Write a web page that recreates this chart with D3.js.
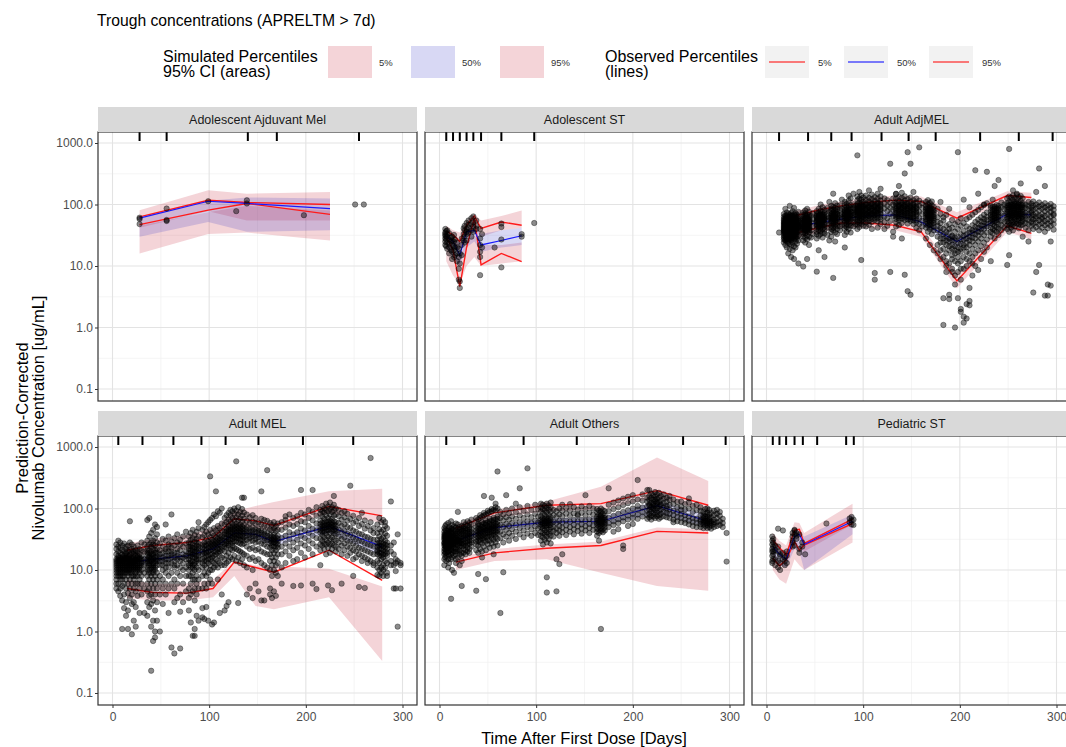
<!DOCTYPE html>
<html>
<head>
<meta charset="utf-8">
<script src="https://cdn.jsdelivr.net/npm/d3@7"></script>
<style>
  body { margin: 0; background: #fff; }
  svg { display: block; font-family: "Liberation Sans", Arial, Helvetica, sans-serif; }
</style>
</head>
<body>
<svg id="chart" width="1066" height="747"></svg>
<script>
// ---- Facet names ----
const panelNames = ["Adolescent Ajduvant Mel", "Adolescent ST", "Adult AdjMEL",
                    "Adult MEL", "Adult Others", "Pediatric ST"];

// ---- Axis ticks ----
const xTicks = [0, 100, 200, 300];
const xMinor = [50, 150, 250];
const yTicks = [0.1, 1, 10, 100, 1000];
const yMinor = [0.3162, 3.162, 31.62, 316.2];

// ---- Adolescent Ajduvant Mel ----
const aamTime   = [28, 99, 139, 225];
const aamObs5   = [47, 81, 104, 69];
const aamObs50  = [60, 113, 104, 86];
const aamObs95  = [63, 117, 108, 100];
const aamSim5   = [[16, 45], [33, 75], [35, 95], [26, 80]];
const aamSim50  = [[30, 62], [52, 115], [36, 130], [38, 125]];
const aamSim95  = [[42, 81], [78, 170], [55, 150], [55, 160]];
const aamBins   = [28, 56, 140, 170, 255];
const aamPoints = [[28, [61, 48, 58]], [56, [86, 56, 54]], [99, [113]], [128, [78]],
                   [139, [117, 104]], [198, [67]], [251, [100]], [260, [100]]];

// ---- Adolescent ST ----
const astTime   = [7, 14, 21, 28, 36, 43, 64, 85];
const astObs5   = [30, 18, 4.6, 20, 60, 10.4, 16, 11.8];
const astObs50  = [31, 25, 15, 36, 38, 22, 26, 31];
const astObs95  = [37, 32, 25, 46, 65, 41, 52, 46];
const astSim5   = [[12, 25], [7, 17], [5, 14], [10, 26], [14, 32], [10, 22], [11, 22], [12, 24]];
const astSim50  = [[20, 35], [14, 27], [10, 24], [20, 40], [25, 48], [17, 33], [20, 38], [22, 42]];
const astSim95  = [[28, 45], [22, 38], [18, 35], [30, 55], [40, 70], [30, 55], [38, 65], [42, 80]];
const astBins   = [7, 14, 21, 28, 35, 43, 64, 98];
const astPoints = [[6, [35, 28, 22, 40, 31, 25, 33]], [7, [37, 27, 30, 21]], [8, [30, 38, 24, 33, 19]],
                   [10, [27, 20, 34, 16, 23]], [12, [25, 18, 29]], [13, [22, 30, 17, 26, 13]],
                   [15, [18, 25, 14, 21, 32]], [16, [20, 15, 27]], [18, [16, 12, 20, 24]],
                   [20, [14, 9, 19, 6]], [21, [4.4, 5.6, 11, 16]], [23, [22, 28, 15]],
                   [25, [33, 26, 41]], [26, [30, 38, 24, 45]], [28, [40, 50, 33, 26, 36]],
                   [30, [42, 55, 35, 47]], [33, [48, 60, 38, 30]], [35, [64, 52, 44, 36]],
                   [38, [45, 55, 40]], [42, [40, 22, 17, 14, 28, 7.1]], [44, [20, 33]], [57, [20]],
                   [64, [49, 43, 9.5, 27]], [85, [30, 33]], [98, [50]]];

// ---- Adult AdjMEL ----
const adjTime   = [29, 55, 77, 103, 133, 160, 197, 249, 274];
const adjObs5   = [34, 42, 50, 50, 46, 36, 5.7, 45, 34];
const adjObs50  = [44, 51, 58, 65, 68, 52, 25, 70, 68];
const adjObs95  = [65, 82, 95, 108, 118, 112, 60, 140, 130];
const adjSim5   = [[28, 40], [35, 50], [42, 58], [42, 58], [38, 54], [30, 44], [4.3, 7.8], [36, 55], [27, 42]];
const adjSim50  = [[38, 48], [46, 58], [54, 66], [60, 76], [62, 80], [46, 62], [20, 30], [62, 80], [60, 78]];
const adjSim95  = [[55, 78], [70, 98], [82, 112], [95, 128], [100, 140], [95, 135], [48, 75], [115, 165], [105, 155]];
const adjBins   = [13, 43, 67, 88, 119, 147, 175, 221, 261, 296];
const adjPoints = [
  [13, [35]],
  [18, [41, 37, 52, 29, 46, 33, 58, 44, 24, 39, 63, 35, 48, 31, 55, 42, 27, 70, 38, 50]],
  [19.5, [44, 36, 49, 27, 53, 40, 61, 33, 45, 22, 38, 57, 47, 30, 66, 42, 35, 51, 26, 85]],
  [21, [39, 46, 31, 55, 43, 28, 60, 36, 49, 41, 25, 67, 34, 52, 45, 30, 58, 38, 20, 74]],
  [22.5, [47, 35, 53, 42, 29, 62, 38, 45, 33, 56, 24, 49, 40, 71, 31, 44, 37, 59, 27, 16]],
  [24, [43, 50, 34, 58, 39, 27, 46, 64, 32, 54, 41, 23, 48, 36, 68, 29, 45, 52, 19, 95]],
  [25.5, [38, 48, 30, 56, 44, 26, 61, 35, 51, 42, 33, 73, 46, 28, 54, 40, 22, 65, 37, 14]],
  [27, [45, 39, 53, 31, 47, 60, 36, 43, 28, 57, 49, 34, 66, 41, 24, 52, 38, 78, 30, 18]],
  [28.5, [42, 50, 33, 58, 37, 46, 27, 63, 40, 54, 31, 48, 69, 35, 44, 21, 57, 39, 88, 13]],
  [30, [46, 36, 55, 41, 29, 60, 48, 34, 52, 38, 25, 65, 43, 57, 31, 72, 45, 20]],
  [31.5, [40, 49, 33, 57, 44, 28, 62, 37, 51, 46, 35, 68, 30, 54, 23, 42]],
  [33, [47, 38, 55, 43, 31, 59, 50, 36, 64, 41, 26, 53, 45, 76, 11]],
  [38, [48, 41, 57, 35, 52, 44, 63, 38, 30, 55, 46, 68, 33, 50, 42, 26, 74, 59, 40, 9.8]],
  [40, [45, 53, 39, 60, 48, 34, 66, 43, 51, 29, 57, 47, 37, 71, 41, 55, 24, 80]],
  [42, [50, 42, 58, 36, 54, 46, 64, 40, 31, 61, 49, 38, 69, 44, 56, 27, 85, 13]],
  [44, [47, 55, 40, 62, 51, 35, 67, 44, 58, 30, 53, 42, 76, 38, 22, 49]],
  [46, [52, 38, 65, 29]], [48, [58, 44, 33, 72]],
  [52, [55, 47, 63, 40, 58, 51, 70, 36, 61, 45, 78, 33, 53, 66, 28, 8.1]],
  [54, [52, 60, 44, 67, 49, 57, 38, 73, 54, 42, 63, 31, 85, 47, 18]],
  [56, [58, 48, 65, 42, 55, 71, 37, 61, 50, 46, 79, 33, 68, 52, 100]],
  [58, [54, 62, 45, 69, 51, 40, 58, 76, 35, 64, 48, 57, 90, 29]],
  [60, [60, 50, 67, 43, 56, 73, 39, 63, 47, 82, 34, 58, 14]],
  [63, [55, 70, 42, 88, 32]], [65, [61, 48, 76, 110, 26]],
  [67, [62, 53, 70, 45, 58, 79, 40, 66, 50, 85, 36, 61, 95, 30]],
  [69, [57, 66, 48, 74, 60, 42, 82, 53, 69, 38, 92, 63, 6.4, 150]],
  [71, [64, 55, 72, 47, 60, 80, 43, 68, 52, 88, 35, 58, 105, 25]],
  [73, [60, 69, 50, 77, 56, 45, 84, 63, 40, 71, 96, 33]],
  [76, [66, 52, 80, 44, 97, 38]], [78, [70, 58, 86, 47, 62, 120]],
  [81, [68, 59, 77, 50, 72, 88, 45, 64, 81, 55, 98, 40, 70, 110, 32, 20]],
  [83, [63, 74, 54, 82, 67, 48, 92, 60, 76, 43, 103, 57, 71, 36]],
  [85, [71, 61, 79, 52, 85, 66, 95, 46, 74, 58, 115, 40, 140]],
  [87, [66, 77, 57, 84, 62, 50, 97, 70, 45, 88, 125, 35]],
  [90, [74, 60, 88, 52, 101, 44, 68, 150]], [92, [70, 82, 58, 95, 48, 76]],
  [94, [78, 66, 89, 58, 82, 102, 52, 73, 95, 62, 118, 47, 85, 135, 40, 630]],
  [96, [72, 84, 63, 94, 76, 55, 108, 68, 88, 50, 125, 80, 43, 160]],
  [98, [80, 69, 91, 60, 85, 104, 54, 76, 98, 65, 120, 48, 140, 12.5]],
  [100, [75, 87, 65, 96, 79, 57, 110, 70, 92, 52, 130, 62, 45]],
  [103, [82, 71, 93, 63, 86, 104, 57, 77, 99, 67, 118, 51, 140, 44]],
  [106, [76, 88, 67, 98, 80, 59, 112, 72, 92, 54, 128, 64, 47, 170]],
  [109, [84, 73, 95, 65, 88, 106, 58, 79, 101, 69, 122, 52, 145, 40]],
  [112, [78, 90, 69, 100, 82, 61, 114, 74, 94, 56, 132, 66, 7.7, 6]],
  [115, [85, 74, 96, 66, 89, 108, 60, 80, 103, 70, 125, 53, 150, 42]],
  [118, [80, 92, 70, 102, 84, 62, 116, 75, 97, 57, 135, 48, 180]],
  [122, [86, 64, 104, 52, 126, 40]], [125, [78, 95, 60, 118, 45]],
  [128, [88, 70, 108, 54, 8, 460]], [131, [82, 100, 65, 125, 36, 30]],
  [134, [84, 73, 96, 64, 88, 108, 58, 79, 102, 68, 124, 52, 148, 44, 150]],
  [137, [79, 91, 69, 101, 83, 60, 114, 74, 95, 55, 132, 64, 46, 200]],
  [140, [86, 75, 98, 65, 90, 110, 59, 80, 104, 70, 128, 50, 155, 28]],
  [143, [80, 93, 70, 103, 85, 61, 117, 75, 97, 56, 136, 66, 320, 7.2]],
  [146, [83, 72, 94, 63, 87, 106, 57, 78, 100, 67, 122, 49, 710, 3.9]],
  [149, [77, 89, 67, 99, 81, 58, 112, 72, 93, 54, 130, 62, 3.4, 460]],
  [152, [81, 70, 92, 61, 85, 104, 55, 76, 98, 64, 118, 48, 160]],
  [155, [74, 86, 64, 95, 78, 56, 108, 69, 90, 51, 125, 42]],
  [158, [76, 60, 95, 48, 115, 850, 38]], [161, [70, 88, 55, 105, 44]],
  [165, [72, 62, 84, 54, 77, 96, 48, 68, 88, 58, 110, 42, 28]],
  [167, [66, 78, 57, 88, 70, 50, 101, 62, 82, 45, 118, 36]],
  [169, [70, 59, 82, 51, 75, 93, 46, 64, 86, 55, 106, 40, 22]],
  [171, [63, 74, 54, 85, 67, 48, 97, 59, 79, 42, 112, 33]],
  [173, [60, 70, 50, 80, 64, 44, 92, 55, 75, 38, 18]],
  [177, [45, 30, 62, 22, 38, 85, 16, 52]],
  [180, [35, 24, 50, 18, 42, 70, 13, 28, 110]],
  [183, [28, 40, 19, 55, 33, 14, 24, 1.1, 3.0, 62]],
  [186, [30, 22, 45, 16, 36, 10, 26, 68, 12, 8]],
  [189, [25, 35, 18, 48, 28, 11, 21, 2.9, 3.4, 40, 85]],
  [192, [22, 31, 15, 42, 26, 9, 19, 56, 13, 8, 30]],
  [195, [26, 18, 36, 12, 29, 7, 21, 48, 5, 1.0, 16]],
  [198, [20, 30, 14, 40, 24, 8, 17, 52, 11, 3.0, 710]],
  [201, [23, 17, 33, 12, 27, 6, 19, 45, 1.8, 2.0, 9, 60]],
  [204, [27, 20, 37, 14, 31, 9, 22, 50, 1.5, 1.2, 120]],
  [207, [24, 33, 17, 44, 28, 10, 20, 58, 1.4, 2.4, 13]],
  [210, [30, 22, 40, 16, 35, 12, 26, 62, 4.4, 2.7, 2.3, 90]],
  [213, [34, 25, 46, 19, 38, 14, 29, 68, 7, 11]],
  [216, [38, 28, 52, 22, 43, 16, 33, 75, 10, 360]],
  [219, [42, 31, 57, 25, 48, 18, 36, 82, 8.6, 150]],
  [222, [46, 35, 62, 28, 53, 21, 40, 90, 13]],
  [225, [52, 40, 68, 32, 58, 24, 45, 98, 17, 100]],
  [228, [56, 44, 74, 35, 63, 27, 49, 105, 20, 340]],
  [232, [62, 50, 76, 42, 68, 88, 36, 57, 95, 30, 12]],
  [234, [58, 70, 48, 82, 64, 40, 93, 53, 76, 34, 120]],
  [236, [66, 54, 80, 45, 72, 92, 38, 60, 86, 28, 200]],
  [238, [61, 74, 51, 86, 67, 43, 98, 56, 79, 36]],
  [240, [68, 57, 83, 47, 74, 95, 40, 63, 88, 32, 250]],
  [243, [72, 55, 90, 46, 108, 38]], [246, [66, 84, 52, 100, 42]],
  [249, [75, 62, 90, 53, 82, 105, 46, 70, 96, 58, 125, 40, 10.4]],
  [251, [70, 85, 59, 98, 76, 50, 112, 65, 90, 45, 135, 36, 800, 15]],
  [253, [78, 64, 93, 55, 84, 108, 48, 72, 100, 60, 130, 42]],
  [255, [72, 88, 61, 101, 79, 52, 118, 67, 94, 47, 140, 38, 170]],
  [257, [80, 66, 95, 57, 86, 110, 50, 74, 102, 62, 128, 44]],
  [259, [74, 90, 63, 104, 81, 54, 120, 69, 96, 49, 145, 150]],
  [261, [77, 65, 92, 56, 83, 107, 48, 71, 99, 60, 132, 41]],
  [263, [71, 86, 60, 100, 78, 51, 115, 66, 91, 46, 138, 220]],
  [265, [76, 63, 90, 54, 82, 104, 47, 70, 97, 58, 126, 30]],
  [268, [73, 58, 88, 50, 100, 42, 66]],
  [271, [69, 84, 56, 95, 48, 110, 38, 25]],
  [274, [74, 60, 90, 52, 103, 45, 66, 80]],
  [276, [68, 82, 57, 96, 49, 112, 40, 3.7]],
  [279, [72, 59, 88, 51, 100, 43, 64, 160, 8]],
  [282, [66, 80, 55, 93, 47, 108, 38, 10.4, 385]],
  [285, [70, 58, 86, 50, 98, 42, 62]],
  [288, [65, 78, 54, 90, 46, 105, 36, 3.3, 200]],
  [291, [69, 57, 84, 49, 96, 41, 5, 3.3]],
  [294, [64, 76, 53, 88, 45, 102, 4.8, 25]],
  [297, [67, 56, 82, 48, 94, 39, 70]]
];

// ---- Adult MEL ----
const melTime   = [15, 42, 77, 104, 126, 148, 167, 224, 279];
const melObs5   = [5, 4.3, 4.2, 5, 13.5, 11, 9.2, 21, 6.8];
const melObs50  = [13, 15, 17, 22, 40, 38, 29, 51, 24];
const melObs95  = [21, 25, 28, 34, 68, 63, 53, 108, 76];
const melSim5   = [[3.5, 7], [3.2, 6], [3.2, 6], [3.6, 7], [8, 14], [2.6, 12], [2.3, 11.5], [3.6, 10.5], [0.33, 5.4]];
const melSim50  = [[11, 15], [13, 17.5], [15, 20], [19, 26], [33, 47], [32, 45], [25, 35], [40, 58], [17, 27]];
const melSim95  = [[16, 27], [19, 32], [22, 37], [27, 48], [52, 90], [48, 110], [42, 128], [85, 190], [58, 210]];
const melBins   = [6, 31, 63, 92, 117, 151, 197, 249];
const melPoints = [
  [4, [12, 9, 15, 7, 18, 11, 5, 14, 22, 10, 13, 8, 26, 6]],
  [6, [14, 10, 17, 8, 12, 20, 6, 15, 11, 24, 9, 13, 4.5, 30, 16]],
  [8, [11, 15, 8, 13, 19, 7, 10, 16, 5, 12, 23, 9, 14, 3.8, 28]],
  [10, [13, 9, 16, 11, 21, 7, 14, 10, 18, 5.5, 12, 25, 8, 15, 3.2, 1.1]],
  [12, [10, 14, 8, 17, 12, 6, 15, 20, 9, 13, 4, 11, 27, 16, 2.4]],
  [14, [15, 11, 18, 9, 13, 22, 7, 16, 10, 12, 5, 19, 3, 24, 1.8]],
  [16, [12, 16, 9, 14, 20, 8, 11, 17, 6, 13, 25, 10, 4.2, 15, 2.2, 1.1]],
  [18, [14, 10, 17, 12, 7, 21, 15, 9, 13, 5, 18, 11, 28, 3.5, 62]],
  [20, [11, 15, 9, 13, 19, 8, 16, 12, 6, 22, 10, 14, 4, 26, 2.8, 0.9]],
  [22, [13, 10, 16, 8, 12, 20, 7, 15, 11, 24, 5, 14, 3, 18, 1.5]],
  [24, [12, 15, 9, 17, 11, 6, 14, 21, 8, 13, 4.5, 19, 10, 2.5, 1.2]],
  [26, [14, 10, 16, 8, 20, 12, 6, 15, 25, 11, 3.8, 17]],
  [28, [11, 15, 9, 18, 13, 7, 22, 10, 16, 5, 12, 2]],
  [30, [13, 10, 17, 8, 14, 21, 6, 12, 4, 28, 15]],
  [33, [15, 9, 20, 5, 12, 26, 2]],
  [36, [15, 11, 19, 8, 14, 24, 6, 17, 10, 30, 4.5, 13, 3, 21, 65, 1.8]],
  [38, [13, 17, 9, 21, 12, 7, 16, 26, 10, 14, 5, 35, 3.8, 19, 2.5, 70]],
  [40, [16, 11, 20, 8, 14, 28, 6, 18, 12, 4, 24, 9, 15, 40, 2.8, 1.2, 0.23]],
  [42, [12, 18, 9, 15, 22, 7, 13, 30, 10, 17, 5, 26, 3.2, 45, 1.5, 0.7, 11]],
  [44, [14, 10, 19, 8, 16, 25, 6, 13, 33, 11, 4, 21, 2.2, 55, 1.0, 0.8]],
  [46, [17, 12, 22, 9, 15, 28, 7, 14, 38, 5, 19, 3, 50, 1.5]],
  [49, [16, 12, 21, 8, 14, 27, 6, 18, 4, 1.0]],
  [52, [14, 19, 10, 24, 7, 16, 32, 5, 12, 2.8]],
  [55, [17, 13, 22, 9, 15, 30, 6, 20, 4, 55, 11]],
  [58, [15, 20, 11, 26, 8, 17, 35, 5, 13, 2, 24]],
  [61, [18, 13, 23, 9, 16, 29, 6, 20, 0.55, 80]],
  [64, [14, 19, 11, 25, 7, 16, 33, 5, 12, 0.44, 3]],
  [67, [17, 12, 22, 9, 15, 28, 6, 19, 3.5, 38]],
  [70, [16, 21, 11, 26, 8, 14, 31, 4, 2.1, 0.53]],
  [73, [18, 13, 24, 10, 16, 35, 6, 3]],
  [76, [15, 20, 11, 27, 8, 17, 4.5, 42]],
  [79, [17, 13, 22, 10, 15, 28, 8, 19, 5, 12, 35, 3.5, 24, 2.2]],
  [81, [19, 14, 24, 11, 17, 31, 8, 21, 6, 13, 40, 4, 27, 1.4]],
  [83, [16, 21, 12, 26, 9, 18, 33, 7, 14, 23, 4.5, 45, 11, 0.85]],
  [85, [18, 13, 23, 10, 16, 29, 7, 20, 5, 37, 12, 3.2, 1.1, 0.85]],
  [87, [20, 15, 25, 11, 17, 32, 8, 22, 6, 14, 42, 4, 28, 1.8]],
  [89, [17, 22, 13, 27, 10, 19, 35, 7, 15, 48, 5, 24, 1.5, 60]],
  [93, [20, 15, 26, 11, 18, 34, 8, 23, 13, 45, 5, 2.4, 1.7]],
  [95, [22, 16, 28, 12, 19, 37, 9, 25, 14, 50, 6, 1.6]],
  [97, [19, 25, 14, 31, 11, 21, 42, 8, 17, 55, 5, 2.5]],
  [99, [23, 17, 29, 13, 20, 38, 9, 26, 15, 60, 6, 1.5]],
  [101, [21, 27, 15, 34, 12, 24, 45, 10, 18, 65, 7, 333]],
  [103, [25, 18, 31, 14, 22, 40, 10, 28, 16, 70, 6, 1.3]],
  [105, [23, 29, 17, 36, 13, 26, 48, 11, 20, 80, 1.4]],
  [107, [27, 20, 34, 15, 24, 44, 12, 30, 18, 75, 190]],
  [109, [25, 32, 19, 40, 14, 28, 52, 11, 22, 90, 7]],
  [111, [30, 22, 37, 17, 26, 48, 13, 33, 20, 85, 2]],
  [113, [28, 35, 21, 44, 16, 31, 57, 12, 24, 100, 4]],
  [116, [34, 26, 42, 20, 30, 55, 15, 38, 24, 70, 12, 2.2]],
  [118, [38, 29, 47, 23, 34, 60, 17, 43, 27, 78, 13, 2.6]],
  [120, [42, 32, 52, 25, 37, 66, 19, 46, 29, 85, 14, 3]],
  [122, [40, 50, 31, 62, 27, 45, 78, 22, 36, 95, 16]],
  [124, [45, 35, 56, 28, 40, 70, 21, 50, 32, 90, 15, 25]],
  [126, [43, 53, 34, 65, 29, 47, 82, 23, 38, 100, 17]],
  [128, [46, 36, 57, 29, 41, 72, 22, 51, 33, 92, 14, 585]],
  [130, [42, 52, 33, 64, 28, 47, 80, 21, 37, 105, 16, 2.9]],
  [132, [44, 35, 55, 27, 40, 69, 20, 49, 31, 88, 13]],
  [134, [41, 51, 32, 61, 26, 46, 77, 19, 36, 98, 15, 150]],
  [136, [43, 34, 54, 27, 39, 68, 18, 48, 30, 86, 12, 150]],
  [139, [40, 31, 50, 24, 36, 63, 17, 45, 80, 11, 4]],
  [142, [37, 47, 29, 58, 22, 42, 72, 15, 33, 5]],
  [145, [39, 30, 49, 23, 35, 61, 16, 44, 78, 10, 3.5]],
  [148, [36, 46, 28, 57, 21, 41, 70, 14, 32, 6]],
  [151, [38, 29, 47, 22, 34, 59, 15, 43, 4.5]],
  [154, [35, 44, 27, 55, 20, 40, 68, 13, 190, 3.2]],
  [157, [33, 26, 42, 19, 30, 52, 12, 38, 65, 3.2]],
  [160, [31, 40, 24, 50, 18, 36, 63, 11, 420]],
  [163, [30, 23, 37, 18, 27, 46, 14, 33, 58, 10, 4, 5]],
  [165, [28, 35, 21, 44, 16, 31, 54, 12, 25, 8, 3.5]],
  [167, [31, 24, 38, 19, 28, 48, 14, 34, 60, 10, 4.5]],
  [169, [27, 34, 21, 43, 16, 30, 52, 12, 24, 9, 3.8]],
  [171, [29, 23, 36, 18, 26, 45, 13, 32, 57, 8]],
  [175, [33, 24, 45, 18, 60, 11, 6]],
  [179, [36, 27, 49, 20, 65, 13, 75]],
  [183, [32, 41, 24, 55, 17, 80]],
  [187, [38, 28, 52, 21, 70, 14, 5.5]],
  [191, [41, 31, 56, 23, 75, 15]],
  [195, [36, 47, 27, 62, 19, 85, 5.6, 200]],
  [199, [44, 33, 60, 25, 80, 16]],
  [203, [40, 52, 30, 70, 22, 95]],
  [207, [47, 36, 64, 27, 88, 18, 6, 200]],
  [211, [44, 57, 33, 76, 24, 105, 4.9]],
  [215, [50, 40, 64, 32, 56, 82, 26, 45, 95, 21, 12]],
  [217, [47, 59, 37, 74, 30, 53, 90, 25, 42, 110]],
  [219, [53, 42, 68, 34, 59, 86, 27, 48, 100, 22]],
  [221, [49, 62, 39, 78, 31, 55, 95, 26, 44, 120, 18]],
  [223, [55, 44, 70, 35, 61, 89, 28, 50, 108, 23, 5.6]],
  [225, [51, 64, 40, 80, 32, 57, 98, 26, 46, 125, 19]],
  [227, [54, 43, 68, 34, 60, 88, 27, 49, 105, 22, 4.7]],
  [229, [50, 62, 39, 77, 31, 55, 94, 25, 45, 115, 160]],
  [231, [47, 38, 60, 30, 53, 80, 24, 43, 100, 20]],
  [234, [45, 35, 58, 28, 75, 22, 95]],
  [237, [41, 52, 32, 66, 25, 85, 18, 6]],
  [240, [43, 34, 55, 27, 72, 21, 90]],
  [243, [39, 50, 30, 63, 24, 82, 17]],
  [246, [37, 29, 48, 23, 68, 19, 235]],
  [249, [34, 44, 27, 58, 21, 76, 15, 8]],
  [252, [32, 25, 42, 20, 62, 16]],
  [255, [30, 39, 23, 52, 18, 70, 5.3]],
  [258, [29, 22, 38, 17, 56, 14, 85]],
  [261, [27, 35, 21, 47, 16, 64, 5.1]],
  [264, [26, 20, 34, 15, 52, 13]],
  [267, [25, 32, 19, 44, 14, 60, 663]],
  [270, [24, 18, 31, 13, 48, 12, 40]],
  [274, [24, 18, 31, 14, 21, 40, 11, 27, 55, 8.3, 20]],
  [276, [22, 28, 17, 35, 13, 25, 46, 10, 19, 70, 8]],
  [278, [25, 19, 32, 15, 22, 42, 11, 28, 60, 9, 17]],
  [280, [21, 27, 16, 34, 12, 24, 45, 10, 18, 65, 8]],
  [282, [23, 18, 30, 14, 20, 39, 11, 26, 52, 60]],
  [284, [22, 28, 17, 36, 13, 25, 48, 9, 19, 8]],
  [288, [20, 12, 130, 14, 25]], [291, [18, 5, 12, 28]], [293, [9.6, 13, 15, 5]],
  [295, [1.2, 38, 14]], [298, [13, 12, 5]]
];

// ---- Adult Others ----
const othTime   = [17, 57, 111, 167, 225, 278];
const othObs5   = [13.4, 19, 22.6, 25, 42.5, 40];
const othObs50  = [30, 49, 60, 62, 111, 62];
const othObs95  = [48, 85, 113, 120, 195, 113];
const othSim5   = [[10, 15.5], [14, 22], [15, 26], [9, 29], [5.5, 49], [4.6, 46]];
const othSim50  = [[26, 34], [43, 56], [53, 69], [53, 73], [83, 132], [50, 78]];
const othSim95  = [[40, 55], [70, 95], [90, 130], [95, 226], [150, 676], [90, 280]];
const othBins   = [7, 36, 87, 142, 196, 252, 296];
const othPoints = [
  [5, [28, 22, 35, 18, 31, 42, 25, 15, 38, 20, 48, 27, 33, 12]],
  [6, [31, 24, 38, 19, 27, 45, 22, 34, 16, 29, 52, 26, 36]],
  [7, [26, 33, 21, 40, 17, 29, 24, 36, 14, 44, 30, 19, 55, 23]],
  [9, [29, 23, 37, 18, 32, 46, 26, 20, 40, 15, 34, 27, 58, 11]],
  [10, [33, 25, 41, 20, 28, 50, 23, 36, 17, 30, 44, 26, 13]],
  [12, [27, 35, 22, 43, 18, 31, 25, 39, 15, 48, 29, 21, 62, 3.4]],
  [13, [30, 24, 38, 19, 34, 47, 26, 21, 41, 16, 28, 54, 10]],
  [15, [32, 26, 40, 20, 29, 45, 23, 36, 17, 51, 27, 34, 9]],
  [17, [28, 36, 22, 44, 18, 31, 25, 39, 15, 49, 33, 20, 57, 13]],
  [19, [31, 25, 39, 20, 34, 47, 27, 22, 42, 16, 30, 55, 88]],
  [21, [33, 27, 41, 21, 30, 50, 24, 37, 18, 45, 29, 12]],
  [23, [30, 38, 24, 46, 19, 34, 27, 42, 17, 52, 5.5, 14]],
  [25, [34, 27, 43, 22, 31, 51, 25, 38, 19, 47, 60]],
  [27, [32, 40, 25, 48, 21, 36, 28, 44, 18, 55]],
  [29, [36, 29, 45, 23, 33, 53, 26, 40, 20, 62]],
  [31, [34, 42, 27, 50, 22, 38, 30, 46, 19, 58]],
  [33, [37, 30, 46, 24, 35, 55, 28, 41, 66]],
  [38, [40, 32, 50, 26, 44, 62, 29, 36, 70, 21, 4.6]],
  [40, [38, 47, 30, 56, 25, 42, 66, 34, 52, 19, 8.6]],
  [42, [43, 35, 53, 28, 47, 70, 31, 39, 78, 22]],
  [44, [41, 50, 33, 60, 27, 45, 74, 36, 55, 20, 16]],
  [46, [46, 37, 57, 30, 50, 77, 33, 42, 85, 24, 160]],
  [48, [44, 54, 35, 64, 29, 48, 80, 39, 58, 21, 7.1]],
  [50, [48, 39, 60, 31, 52, 84, 35, 44, 92, 26]],
  [52, [46, 56, 37, 68, 30, 50, 88, 41, 62, 23]],
  [54, [50, 41, 63, 33, 55, 90, 37, 46, 98, 27, 150]],
  [56, [48, 59, 38, 71, 31, 53, 95, 43, 65, 24, 18]],
  [58, [52, 42, 66, 34, 57, 93, 38, 47, 105, 28, 120]],
  [60, [50, 61, 40, 74, 32, 55, 100, 44, 68, 25, 400]],
  [63, [54, 42, 70, 33, 88, 2.0]], [66, [50, 64, 38, 80, 28, 9.2]],
  [69, [56, 45, 72, 35, 95, 165]], [72, [52, 66, 40, 84, 30]],
  [75, [58, 46, 74, 36, 100]], [79, [54, 68, 42, 88, 32, 120]],
  [83, [60, 48, 77, 38, 105, 213]], [87, [56, 70, 44, 92, 34]],
  [91, [62, 50, 80, 39, 110, 450]], [95, [58, 72, 46, 95, 36]],
  [99, [63, 51, 82, 40, 115]], [102, [59, 74, 47, 98, 37]],
  [105, [60, 50, 74, 42, 66, 90, 36, 55, 105, 30, 120]],
  [107, [57, 69, 47, 84, 40, 63, 98, 34, 52, 115, 26]],
  [109, [62, 52, 77, 44, 68, 94, 38, 57, 110, 31]],
  [111, [58, 71, 48, 87, 41, 64, 102, 35, 53, 120, 28, 7.6, 4.3]],
  [113, [63, 53, 79, 45, 69, 96, 39, 58, 112, 32]],
  [115, [59, 72, 49, 88, 42, 65, 104, 36, 54, 125, 27]],
  [118, [61, 50, 78, 43, 95, 35]], [121, [58, 73, 47, 90, 40, 4.5, 15]],
  [124, [63, 52, 80, 44, 100, 36, 12.5]], [127, [60, 75, 49, 92, 41, 115, 18]],
  [131, [64, 53, 82, 45, 102, 37]], [135, [61, 76, 50, 94, 42, 118]],
  [139, [65, 54, 83, 46, 105, 38]], [143, [62, 77, 51, 96, 43, 80]],
  [147, [66, 55, 85, 47, 108, 39]], [151, [63, 78, 52, 98, 44, 165]],
  [155, [67, 56, 86, 48, 110, 40]], [159, [64, 80, 53, 100, 45]],
  [163, [63, 54, 74, 47, 68, 86, 42, 58, 98, 36]],
  [165, [60, 70, 51, 80, 45, 65, 92, 40, 56, 30]],
  [167, [64, 55, 76, 48, 69, 88, 43, 59, 100, 1.1, 75]],
  [169, [61, 71, 52, 82, 46, 66, 94, 41, 57]],
  [171, [65, 56, 77, 49, 70, 90, 44, 60]],
  [175, [70, 58, 90, 50, 115, 213]], [180, [76, 62, 98, 54, 125, 42]],
  [185, [82, 67, 105, 58, 135, 46]], [190, [88, 72, 114, 62, 145, 22, 25]],
  [195, [94, 77, 122, 66, 155, 52]], [200, [100, 82, 130, 70, 165, 56]],
  [205, [96, 110, 80, 140, 68, 290]], [210, [104, 88, 134, 74, 170]],
  [215, [108, 92, 130, 78, 150, 68, 200]],
  [217, [112, 95, 138, 82, 160, 72, 118, 200]],
  [219, [106, 125, 90, 148, 76, 175, 66]],
  [221, [114, 98, 140, 84, 165, 74, 120, 102]],
  [223, [110, 130, 94, 155, 80, 185, 70, 140]],
  [225, [116, 100, 142, 86, 170, 75, 125]],
  [227, [108, 128, 92, 150, 78, 180, 68]],
  [229, [112, 96, 136, 82, 160, 72, 118]],
  [232, [104, 122, 88, 145, 75, 170]],
  [235, [100, 85, 128, 72, 150, 110]],
  [238, [96, 115, 82, 138, 70, 160]],
  [242, [92, 78, 118, 66, 140, 60]], [246, [86, 105, 72, 128, 62]],
  [250, [82, 70, 108, 60, 130, 95]], [254, [78, 96, 66, 118, 58]],
  [258, [74, 63, 100, 55, 125, 146]], [262, [70, 88, 60, 110, 52]],
  [266, [68, 58, 94, 50, 115]],
  [270, [66, 78, 56, 92, 50, 105, 62]],
  [273, [64, 55, 76, 48, 88, 60, 70]],
  [275, [68, 58, 82, 52, 98, 62, 74]],
  [277, [63, 74, 54, 86, 48, 100, 58]],
  [279, [66, 57, 80, 50, 95, 61, 70]],
  [281, [62, 72, 53, 85, 47, 58]],
  [284, [65, 56, 78, 50, 92, 60]],
  [287, [60, 70, 52, 82, 95]], [290, [62, 54, 76, 88]], [293, [58, 68, 50]],
  [297, [13.7, 40]]
];

// ---- Pediatric ST ----
const pedTime   = [6.5, 13.4, 20.3, 29, 34, 39, 89];
const pedObs5   = [15.5, 11.7, 14.5, 28.8, 21, 25.4, 57];
const pedObs50  = [24, 18, 15, 35, 38, 26, 62];
const pedObs95  = [30.6, 23, 17.5, 44.5, 46, 27, 67];
const pedSim5   = [[10, 20], [7, 14], [6, 13], [15, 30], [12, 28], [10, 25], [28, 65]];
const pedSim50  = [[17, 30], [12, 22], [11, 19], [22, 45], [20, 42], [10, 35], [38, 80]];
const pedSim95  = [[24, 40], [17, 30], [13, 25], [30, 60], [30, 58], [20, 40], [55, 120]];
const pedBins   = [6.5, 13.4, 20.3, 29, 37.6, 52.4, 82.4, 90.3];
const pedPoints = [[6, [30, 22, 17, 26, 35, 14, 13, 20]], [7, [28, 20, 24, 32, 18, 15]], [9, [25, 15, 12, 21]],
                   [12, [47, 14, 20, 11, 24]], [14, [10, 13, 18, 17]], [17, [44, 15, 19]],
                   [19, [12, 16, 14]], [21, [13, 17, 20]], [27, [35, 28, 40, 30, 24]],
                   [29, [44, 38, 25, 45]], [31, [32, 36, 40]], [34, [22, 38, 19]], [37, [28, 24]],
                   [40, [18]], [62, [57]], [86, [69, 60]], [88, [64, 73, 55]], [90, [54, 66]]];

// ---- Legend entries ----
const simLegendLabels = ["5%", "50%", "95%"];
const obsLegendLabels = ["5%", "50%", "95%"];

// ---- Colours ----
const bandRed  = "rgba(200, 40, 60, 0.2)";
const bandBlue = "rgba(60, 60, 200, 0.2)";
const lineRed  = "#ff1a1a";
const lineBlue = "#1a1aff";

const panels = [
  { name: panelNames[0], t: aamTime, o5: aamObs5, o50: aamObs50, o95: aamObs95, s5: aamSim5, s50: aamSim50, s95: aamSim95, bins: aamBins, pts: aamPoints },
  { name: panelNames[1], t: astTime, o5: astObs5, o50: astObs50, o95: astObs95, s5: astSim5, s50: astSim50, s95: astSim95, bins: astBins, pts: astPoints },
  { name: panelNames[2], t: adjTime, o5: adjObs5, o50: adjObs50, o95: adjObs95, s5: adjSim5, s50: adjSim50, s95: adjSim95, bins: adjBins, pts: adjPoints },
  { name: panelNames[3], t: melTime, o5: melObs5, o50: melObs50, o95: melObs95, s5: melSim5, s50: melSim50, s95: melSim95, bins: melBins, pts: melPoints },
  { name: panelNames[4], t: othTime, o5: othObs5, o50: othObs50, o95: othObs95, s5: othSim5, s50: othSim50, s95: othSim95, bins: othBins, pts: othPoints },
  { name: panelNames[5], t: pedTime, o5: pedObs5, o50: pedObs50, o95: pedObs95, s5: pedSim5, s50: pedSim50, s95: pedSim95, bins: pedBins, pts: pedPoints }
];

// ---- Layout ----
const svg = d3.select("#chart");
const colX = [98, 425, 752];
const rowY = [132, 436];
const pw = 319, ph = 269, stripH = 25;

const x = d3.scaleLinear().domain([-15, 315]).range([0, pw]);
const y = d3.scaleLog().domain([0.0638, 1510]).range([ph, 0]);

svg.append("defs").append("clipPath").attr("id", "panelClip")
  .append("rect").attr("width", pw).attr("height", ph);

const area = d3.area().x(d => x(d.t)).y0(d => y(d.lo)).y1(d => y(d.hi));
const line = d3.line().x(d => x(d.t)).y(d => y(d.v));

panels.forEach((p, i) => {
  const col = i % 3, row = Math.floor(i / 3);
  const g = svg.append("g").attr("transform", `translate(${colX[col]},${rowY[row]})`);

  // grid
  const grid = g.append("g");
  grid.selectAll(".xmin").data(xMinor).join("line")
    .attr("x1", d => x(d)).attr("x2", d => x(d)).attr("y1", 0).attr("y2", ph)
    .attr("stroke", "#f0f0f0").attr("stroke-width", 0.7);
  grid.selectAll(".ymin").data(yMinor).join("line")
    .attr("y1", d => y(d)).attr("y2", d => y(d)).attr("x1", 0).attr("x2", pw)
    .attr("stroke", "#f0f0f0").attr("stroke-width", 0.7);
  grid.selectAll(".xmaj").data(xTicks).join("line")
    .attr("x1", d => x(d)).attr("x2", d => x(d)).attr("y1", 0).attr("y2", ph)
    .attr("stroke", "#e3e3e3").attr("stroke-width", 1.1);
  grid.selectAll(".ymaj").data(yTicks).join("line")
    .attr("y1", d => y(d)).attr("y2", d => y(d)).attr("x1", 0).attr("x2", pw)
    .attr("stroke", "#e3e3e3").attr("stroke-width", 1.1);

  const plot = g.append("g").attr("clip-path", "url(#panelClip)");

  // simulated percentile confidence areas
  [[p.s5, bandRed], [p.s95, bandRed], [p.s50, bandBlue]].forEach(([b, fill]) => {
    plot.append("path")
      .datum(p.t.map((t, k) => ({ t, lo: b[k][0], hi: b[k][1] })))
      .attr("d", area).attr("fill", fill);
  });

  // observed percentile lines
  [[p.o5, lineRed, 1.4], [p.o95, lineRed, 1.4], [p.o50, lineBlue, 1.2]].forEach(([vals, c, w]) => {
    plot.append("path")
      .datum(p.t.map((t, k) => ({ t, v: vals[k] })))
      .attr("d", line).attr("fill", "none").attr("stroke", c).attr("stroke-width", w);
  });

  // observations
  const obs = p.pts.flatMap(([t, vs]) => vs.map(v => ({ t, v })));
  plot.selectAll("circle").data(obs).join("circle")
    .attr("cx", d => x(d.t)).attr("cy", d => y(d.v)).attr("r", 2.7)
    .attr("fill", "rgba(0,0,0,0.45)").attr("stroke", "rgba(0,0,0,0.6)").attr("stroke-width", 0.6);

  // bin separators along the top
  plot.selectAll(".rug").data(p.bins).join("line")
    .attr("x1", d => x(d)).attr("x2", d => x(d)).attr("y1", 0).attr("y2", 9)
    .attr("stroke", "#000").attr("stroke-width", 2);

  // border
  g.append("rect").attr("width", pw).attr("height", ph)
    .attr("fill", "none").attr("stroke", "#333").attr("stroke-width", 1.2);

  // strip
  g.append("rect").attr("x", 0).attr("y", -stripH).attr("width", pw).attr("height", stripH)
    .attr("fill", "#d9d9d9");
  g.append("text").attr("x", pw / 2).attr("y", -stripH / 2 + 4.3)
    .attr("text-anchor", "middle").attr("font-size", 12.5).attr("fill", "#1a1a1a")
    .text(p.name);

  // axes
  if (col === 0) {
    const ax = g.append("g").call(d3.axisLeft(y).tickValues(yTicks).tickFormat(d3.format(".1f")).tickSize(3).tickPadding(2));
    ax.select(".domain").remove();
    ax.selectAll("line").attr("stroke", "#333");
    ax.selectAll("text").attr("font-size", 12).attr("fill", "#4d4d4d").attr("font-family", null);
  }
  if (row === 1) {
    const ax = g.append("g").attr("transform", `translate(0,${ph})`)
      .call(d3.axisBottom(x).tickValues(xTicks).tickFormat(d3.format("d")).tickSize(3).tickPadding(4));
    ax.select(".domain").remove();
    ax.selectAll("line").attr("stroke", "#333");
    ax.selectAll("text").attr("font-size", 12).attr("fill", "#4d4d4d").attr("font-family", null);
  }
});

// ---- Axis titles ----
svg.append("text").attr("x", 584).attr("y", 744).attr("text-anchor", "middle")
  .attr("font-size", 16.5).attr("fill", "#000").text("Time After First Dose [Days]");
const yTitle = svg.append("text").attr("transform", "translate(0,418) rotate(-90)")
  .attr("text-anchor", "middle").attr("font-size", 16.5).attr("fill", "#000");
yTitle.append("tspan").attr("x", 0).attr("y", 28).text("Prediction-Corrected");
yTitle.append("tspan").attr("x", 0).attr("y", 44).text("Nivolumab Concentration [ug/mL]");

// ---- Title ----
svg.append("text").attr("x", 97).attr("y", 26).attr("font-size", 15.7).attr("fill", "#000")
  .text("Trough concentrations (APRELTM > 7d)");

// ---- Legends ----
const leg = svg.append("g");
leg.append("text").attr("x", 163).attr("y", 62).attr("font-size", 16).text("Simulated Percentiles");
leg.append("text").attr("x", 163).attr("y", 77).attr("font-size", 16).text("95% CI (areas)");
const simKeyX = [328, 411, 500];
const simFill = [bandRed, bandBlue, bandRed];
simLegendLabels.forEach((lab, k) => {
  leg.append("rect").attr("x", simKeyX[k]).attr("y", 46).attr("width", 44).attr("height", 32).attr("fill", simFill[k]);
  leg.append("text").attr("x", simKeyX[k] + 51).attr("y", 66).attr("font-size", 9.5).attr("fill", "#333").text(lab);
});
leg.append("text").attr("x", 605).attr("y", 62).attr("font-size", 16).text("Observed Percentiles");
leg.append("text").attr("x", 605).attr("y", 77).attr("font-size", 16).text("(lines)");
const obsKeyX = [765, 844, 929];
const obsStroke = [lineRed, lineBlue, lineRed];
obsLegendLabels.forEach((lab, k) => {
  leg.append("rect").attr("x", obsKeyX[k]).attr("y", 46).attr("width", 44).attr("height", 32).attr("fill", "#f2f2f2");
  leg.append("line").attr("x1", obsKeyX[k] + 4).attr("x2", obsKeyX[k] + 40).attr("y1", 62).attr("y2", 62)
    .attr("stroke", obsStroke[k]).attr("stroke-width", 1.6).attr("opacity", 0.75);
  leg.append("text").attr("x", obsKeyX[k] + 53).attr("y", 66).attr("font-size", 9.5).attr("fill", "#333").text(lab);
});
</script>
</body>
</html>
